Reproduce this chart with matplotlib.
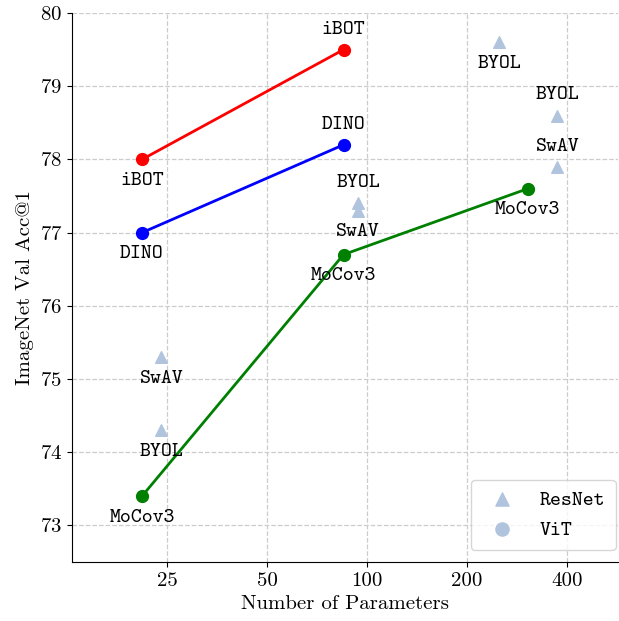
import matplotlib
matplotlib.use("Agg")
import matplotlib.pyplot as plt
from matplotlib.ticker import FixedLocator, FixedFormatter, NullLocator

plt.rcParams['font.family'] = ['cmr10', 'DejaVu Serif']
plt.rcParams['axes.formatter.use_mathtext'] = True
mono = ['cmtt10', 'DejaVu Sans Mono']

# ViT results (params in M, acc)
vit_params = [21, 85]
ibot_acc = [78.0, 79.5]
dino_acc = [77.0, 78.2]
mocov3_params = [21, 85, 305]
mocov3_acc = [73.4, 76.7, 77.6]

# ResNet results
res_params = [24, 24, 94, 94, 250, 375, 375]
res_acc = [75.3, 74.3, 77.4, 77.3, 79.6, 78.6, 77.9]
res_names = ["SwAV", "BYOL", "BYOL", "SwAV", "BYOL", "BYOL", "SwAV"]
res_above = [False, False, True, False, False, True, True]

xticks = [25, 50, 100, 200, 400]

fig = plt.figure(figsize=(6.19, 6.21), dpi=100)
ax = fig.add_axes([0.116, 0.095, 0.882, 0.884])

ax.set_xscale('log', base=2)
ax.grid(True, linestyle='--', color='#cccccc', linewidth=0.9)
ax.set_axisbelow(True)

ax.plot(vit_params, ibot_acc, '-o', color='red', markersize=8.5, linewidth=2)
ax.plot(vit_params, dino_acc, '-o', color='blue', markersize=8.5, linewidth=2)
ax.plot(mocov3_params, mocov3_acc, '-o', color='green', markersize=8.5, linewidth=2)
ax.scatter(res_params, res_acc, marker='^', color='lightsteelblue', s=70, zorder=3)

def label(x, y, txt, above):
    off = 8 if above else -9
    ax.annotate(txt, (x, y), xytext=(0, off), textcoords='offset points',
                ha='center', va='bottom' if above else 'top',
                family=mono, fontsize=15)

label(vit_params[0], ibot_acc[0], "iBOT", False)
label(vit_params[1], ibot_acc[1], "iBOT", True)
label(vit_params[0], dino_acc[0], "DINO", False)
label(vit_params[1], dino_acc[1], "DINO", True)
for p, a in zip(mocov3_params, mocov3_acc):
    label(p, a, "MoCov3", False)
for p, a, n, up in zip(res_params, res_acc, res_names, res_above):
    label(p, a, n, up)

ax.set_xlim(12.9, 570)
ax.set_ylim(72.5, 80)
ax.xaxis.set_major_locator(FixedLocator(xticks))
ax.xaxis.set_major_formatter(FixedFormatter([str(t) for t in xticks]))
ax.xaxis.set_minor_locator(NullLocator())
ax.set_yticks(range(73, 81))
ax.tick_params(labelsize=15)

ax.spines['top'].set_visible(False)
ax.spines['right'].set_visible(False)

ax.set_xlabel("Number of Parameters", fontsize=15)
ax.set_ylabel("ImageNet Val Acc@1", fontsize=15)

h1 = ax.scatter([], [], marker='^', color='lightsteelblue', s=90)
h2 = ax.scatter([], [], marker='o', color='lightsteelblue', s=90)
ax.legend([h1, h2], ["ResNet", "ViT"], loc='lower right', prop={'family': mono, 'size': 15},
          bbox_to_anchor=(0.996, 0.022), borderaxespad=0,
          borderpad=0.5, handletextpad=0.8)

fig.savefig("out.png", dpi=100)
